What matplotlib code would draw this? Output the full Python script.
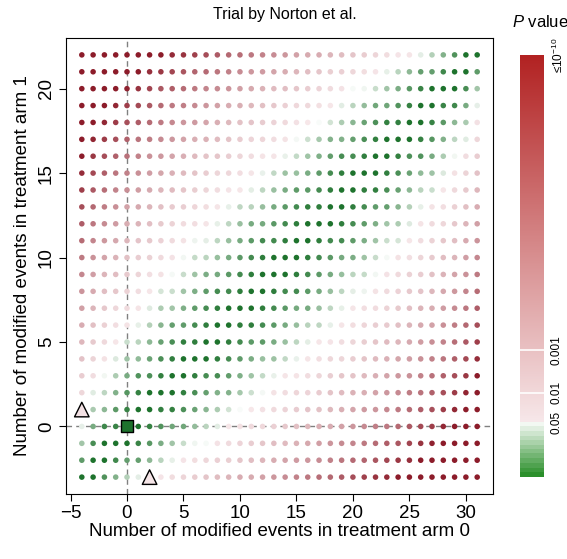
import math
import numpy as np
import matplotlib.pyplot as plt

plt.rcParams['font.family'] = ['Liberation Sans', 'DejaVu Sans']
plt.rcParams['mathtext.fontset'] = 'custom'
plt.rcParams['mathtext.rm'] = 'Liberation Sans'
plt.rcParams['mathtext.it'] = 'Liberation Sans:italic'

# trial counts (events / patients per arm)
events_arm0 = 4
size_arm0 = 35
events_arm1 = 3
size_arm1 = 25

# highlighted modifications: original trial and nearest significant results
square_pts = [(0, 0)]
triangle_pts = [(-4, 1), (2, -3)]

cbar_pvals = [0.05, 0.01, 0.001, 1e-10]
cbar_labels = ['0.05', '0.01', '0.001', '≤10$^{-10}$']


def fisher_p(a, n0, b, n1):
    k_tot = a + b
    n_tot = n0 + n1
    denom = math.comb(n_tot, k_tot)
    probs = {}
    for k in range(max(0, k_tot - n1), min(k_tot, n0) + 1):
        probs[k] = math.comb(n0, k) * math.comb(n1, k_tot - k) / denom
    p_obs = probs[a]
    return min(1.0, sum(p for p in probs.values() if p <= p_obs * (1 + 1e-7)))


mod0 = np.arange(-events_arm0, size_arm0 - events_arm0 + 1)
mod1 = np.arange(-events_arm1, size_arm1 - events_arm1 + 1)
pv = {}
for x in mod0:
    for y in mod1:
        pv[(x, y)] = fisher_p(events_arm0 + x, size_arm0, events_arm1 + y, size_arm1)

cut = -math.log10(0.05)


def mix(c1, c2, t):
    return tuple((c1[i] + (c2[i] - c1[i]) * t) / 255 for i in range(3))


def colour(p, green, red, white_g=(252, 253, 252), white_r=(247, 232, 234)):
    v = min(-math.log10(max(p, 1e-300)), 10)
    if v < cut:
        return mix(green, white_g, v / cut)
    return mix(white_r, red, (v - cut) / (10 - cut))


dot_green = (30, 115, 45)
dot_red = (140, 28, 42)

fig = plt.figure(figsize=(5.67, 5.59), dpi=100)
ax = fig.add_axes([66 / 567, 1 - 494 / 559, 427 / 567, 456 / 559])

xs = [k[0] for k in pv]
ys = [k[1] for k in pv]
cols = [colour(pv[k], dot_green, dot_red) for k in pv]
ax.axvline(0, color='#808080', lw=1, ls=(0, (4, 3)), zorder=1)
ax.axhline(0, color='#808080', lw=1, ls=(0, (4, 3)), zorder=1)
ax.scatter(xs, ys, c=cols, s=16, edgecolors='none', zorder=2)

for pts, mk, sz in [(square_pts, 's', 70), (triangle_pts, '^', 110)]:
    ax.scatter([p[0] for p in pts], [p[1] for p in pts],
               c=[colour(pv[p], dot_green, dot_red) for p in pts],
               marker=mk, s=sz, edgecolors='black', linewidths=1, zorder=3)

ax.set_xlim(mod0[0] - 0.04 * (mod0[-1] - mod0[0]), mod0[-1] + 0.04 * (mod0[-1] - mod0[0]))
ax.set_ylim(mod1[0] - 0.04 * (mod1[-1] - mod1[0]), mod1[-1] + 0.04 * (mod1[-1] - mod1[0]))
ax.set_xticks(range(-5, 31, 5))
ax.set_yticks(range(0, 21, 5))
ax.tick_params(direction='out', length=5, width=0.8, labelsize=13.5, pad=3)
plt.setp(ax.get_yticklabels(), rotation=90, va='center')
ax.set_xlabel('Number of modified events in treatment arm 0', fontsize=13.5, labelpad=1)
ax.set_ylabel('Number of modified events in treatment arm 1', fontsize=13.5, labelpad=5)
fig.text(285 / 567, 1 - 14 / 559, 'Trial by Norton et al.', ha='center', va='center', fontsize=11.5)

# colour key
cax = fig.add_axes([520 / 567, 1 - 477 / 559, 24 / 567, 422 / 559])
vals = np.linspace(0, 10, 500)
bar_cols = []
for v in vals:
    if v < cut:
        v = (np.floor(v / cut * 12) + 0.5) / 12 * cut
    bar_cols.append(colour(10 ** (-v), (34, 139, 34), (178, 34, 34)))
cax.imshow(np.array(bar_cols)[:, None, :], aspect='auto', origin='lower',
           extent=[0, 1, 0, 10], interpolation='nearest')
for v in [2, 3]:
    cax.axhline(v, color='white', lw=1.2)
cax.set_xlim(0, 1)
cax.set_ylim(0, 10)
for s in cax.spines.values():
    s.set_visible(False)
cax.set_xticks([])
cax.yaxis.tick_right()
cax.set_yticks([-math.log10(p) for p in cbar_pvals])
cax.set_yticklabels(cbar_labels, rotation=90, va='center', fontsize=8.5)
cax.tick_params(axis='y', length=0, pad=5)
fig.text(540 / 567, 1 - 22 / 559, '$P$ value', ha='center', va='center', fontsize=12)

fig.savefig('out.png', dpi=100)
